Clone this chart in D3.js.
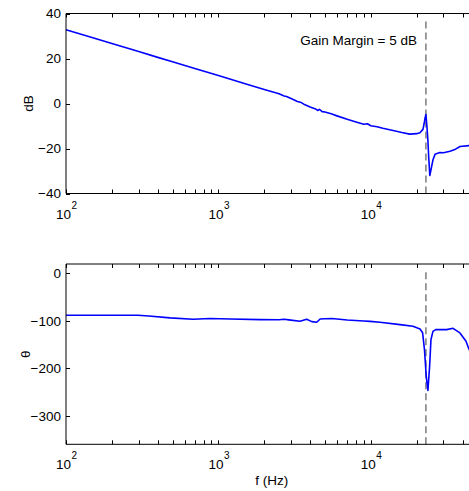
<!DOCTYPE html>
<html>
<head>
<meta charset="utf-8">
<script src="https://cdn.jsdelivr.net/npm/d3@7"></script>
<style>
  html, body { margin: 0; padding: 0; background: #fff; overflow: hidden; }
  svg { display: block; overflow: hidden; }
  text { font-family: "Liberation Sans", Arial, Helvetica, sans-serif; fill: #000; }
</style>
</head>
<body>
<svg id="chart" width="469" height="491"></svg>
<script>
// ---------- data ----------
const magFreq = [100,150,200,300,400,500,700,1000,1500,2000,2500,2700,2800,3000,3300,3500,3700,4000,4300,4500,4600,4800,5000,5500,6000,7000,8000,9000,9500,10000,11000,12000,14000,16000,18000,20000,21000,22000,22400,22700,23000,23350,23700,24000,24400,25000,25600,26400,28400,30000,33100,36000,38500,44100,50000];
const magDb   = [32.8,29.2,26.7,23.1,20.5,18.6,15.6,12.4,8.8,6.2,4.3,3.3,3.1,2.2,0.9,0.4,-0.6,-1.6,-2.3,-3.1,-2.6,-3.6,-3.8,-4.6,-5.5,-7.0,-8.2,-9.2,-9.0,-9.9,-10.3,-11.0,-12.0,-12.9,-13.6,-13.4,-13.0,-11.5,-8.9,-6.5,-4.9,-10,-16.4,-24,-32,-28.5,-25,-22.6,-21.8,-21.9,-21.2,-20.3,-19.1,-18.7,-18.5];

const phFreq = [100,200,296,350,481,684,880,1200,1875,2500,2700,2900,3428,3800,4100,4420,4650,5000,5560,7000,9000,9890,11500,15560,18920,21040,21880,22500,23120,23710,24320,24830,25590,26700,31480,34670,38460,42170,44160,50000];
const phDeg  = [-88.1,-88.1,-88.1,-89.5,-93.6,-96.5,-95,-95.8,-97.2,-97.5,-96.5,-97.8,-100.7,-96.5,-101.5,-102.8,-95.8,-95.5,-95,-98,-100,-101,-102.8,-107.7,-111.3,-116.9,-125,-160,-217,-246.5,-196,-139,-122,-118.3,-118.3,-115.5,-125.3,-143,-160,-185];

const gmFreq = 23010;               // gain-margin frequency (Hz)
const gmLabel = "Gain Margin = 5 dB";
const xDomain = [100, 50000];
const xMajor = [100, 1000, 10000];
const xMajorExp = ["2", "3", "4"];
const magDomain = [-40, 40];
const magTicks = [-40, -20, 0, 20, 40];
const phDomain = [-360, 20];
const phTicks = [-300, -200, -100, 0];
const gmTopSpan = [-40, 36.5];
const gmBotSpan = [-360, 6];

// ---------- layout ----------
const svg = d3.select("#chart");
const W = 469;
const left = 66, right = 477.3;
const top1 = 13.5, bot1 = 193.5;
const top2 = 264, bot2 = 444.3;

const x = d3.scaleLog().domain(xDomain).range([left, right]);
const y1 = d3.scaleLinear().domain(magDomain).range([bot1, top1]);
const y2 = d3.scaleLinear().domain(phDomain).range([bot2, top2]);

const fmt = v => (v < 0 ? "\u2212" + Math.abs(v) : String(v));
const minor = [];
for (let d = 100; d < 100000; d *= 10) for (let k = 2; k <= 9; k++) minor.push(d * k);

function panel(y, top, bot, yTicks, freq, vals, gmSpan) {
  const g = svg.append("g");

  // dashed gain-margin line
  g.append("line")
    .attr("x1", x(gmFreq)).attr("x2", x(gmFreq))
    .attr("y1", y(gmSpan[0])).attr("y2", y(gmSpan[1]))
    .attr("stroke", "#4d4d4d").attr("stroke-width", 1.1)
    .attr("stroke-dasharray", "7,4");

  // curve
  const line = d3.line().x((d, i) => x(freq[i])).y(d => y(d));
  g.append("path").datum(vals)
    .attr("d", line)
    .attr("fill", "none").attr("stroke", "#0000ff").attr("stroke-width", 1.6)
    .attr("stroke-linejoin", "round");

  // box (left, top, bottom; right edge lies outside the window)
  g.append("line").attr("x1", left).attr("x2", W).attr("y1", top).attr("y2", top).attr("stroke", "#000");
  g.append("line").attr("x1", left).attr("x2", W).attr("y1", bot).attr("y2", bot).attr("stroke", "#000");
  g.append("line").attr("x1", left).attr("x2", left).attr("y1", top).attr("y2", bot).attr("stroke", "#000");

  // x ticks (major+minor, inward top & bottom)
  const allX = xMajor.concat(minor).filter(v => v >= xDomain[0] && x(v) < W);
  allX.forEach(v => {
    const xx = Math.round(x(v)) + 0.5;
    g.append("line").attr("x1", xx).attr("x2", xx).attr("y1", bot).attr("y2", bot - 4).attr("stroke", "#000");
    g.append("line").attr("x1", xx).attr("x2", xx).attr("y1", top).attr("y2", top + 4).attr("stroke", "#000");
  });
  // x labels
  xMajor.forEach((v, i) => {
    g.append("text").attr("x", x(v) - 2.5).attr("y", bot + 25)
      .attr("text-anchor", "middle").attr("font-size", 13.5).text("10");
    g.append("text").attr("x", x(v) + 5.5).attr("y", bot + 15)
      .attr("text-anchor", "start").attr("font-size", 10).text(xMajorExp[i]);
  });

  // y ticks
  yTicks.forEach(v => {
    const yy = Math.round(y(v)) + 0.5;
    g.append("line").attr("x1", left).attr("x2", left + 4).attr("y1", yy).attr("y2", yy).attr("stroke", "#000");
    g.append("text").attr("x", left - 5).attr("y", y(v)).attr("dy", "0.35em")
      .attr("text-anchor", "end").attr("font-size", 13.5).text(fmt(v));
  });
  return g;
}

panel(y1, top1, bot1, magTicks, magFreq, magDb, gmTopSpan);
panel(y2, top2, bot2, phTicks, phFreq, phDeg, gmBotSpan);

// y labels
svg.append("text").attr("transform", `translate(33,${(top1 + bot1) / 2}) rotate(-90)`)
  .attr("text-anchor", "middle").attr("font-size", 13.5).text("dB");
svg.append("text").attr("transform", `translate(30,${(top2 + bot2) / 2}) rotate(-90)`)
  .attr("text-anchor", "middle").attr("font-size", 13.5).text("\u03b8");

// annotation
svg.append("text").attr("x", 417).attr("y", 45).attr("text-anchor", "end")
  .attr("font-size", 13.5).text(gmLabel);

// x label
svg.append("text").attr("x", (left + right) / 2).attr("y", 485)
  .attr("text-anchor", "middle").attr("font-size", 13.5).text("f (Hz)");
</script>
</body>
</html>
